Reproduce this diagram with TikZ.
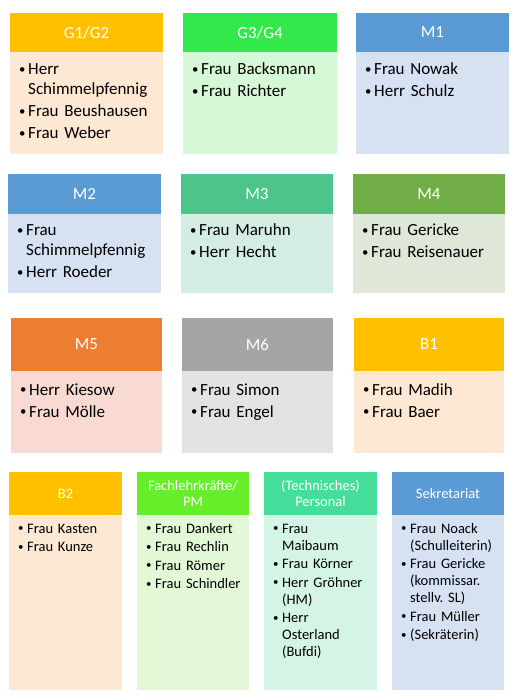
\documentclass[tikz,border=0pt]{standalone}
\usepackage{fontspec}
\usepackage{graphicx}
\setmainfont{Carlito}
\frenchspacing
\definecolor{gold}{HTML}{FFC000}
\definecolor{peach}{HTML}{FDE9D3}
\definecolor{brgreen}{HTML}{33E84A}
\definecolor{ltgreen}{HTML}{D6F8D6}
\definecolor{blueh}{HTML}{5B9BD5}
\definecolor{blueb}{HTML}{D6E1F2}
\definecolor{mint}{HTML}{4CC48A}
\definecolor{mintb}{HTML}{D4EDE2}
\definecolor{olive}{HTML}{70AD47}
\definecolor{oliveb}{HTML}{DFE8D8}
\definecolor{orangeh}{HTML}{ED7D31}
\definecolor{orangeb}{HTML}{F9DAD2}
\definecolor{greyh}{HTML}{A5A5A5}
\definecolor{greyb}{HTML}{E3E3E3}
\definecolor{lime}{HTML}{66EE2A}
\definecolor{limeb}{HTML}{E2F8D6}
\definecolor{aqua}{HTML}{44DD99}
\definecolor{aquab}{HTML}{D4F5E6}
\newcommand\bu{\makebox[9pt][l]{\raisebox{0.08em}{\scalebox{0.75}{\textbullet}}}}
\newcommand\ct{\hspace*{9pt}}
\tikzset{
  hdr/.style={inner sep=0pt, text=white, align=center},
  bodybox/.style={inner sep=0pt},
  biglist/.style={anchor=base west, inner sep=0pt, text width=150pt, align=left,
    font=\fontsize{17}{19.5}\selectfont},
  smalllist/.style={anchor=base west, inner sep=0pt, text width=110pt, align=left,
    font=\fontsize{14.5}{17}\selectfont},
  bigh/.style={font=\fontsize{17}{19}\selectfont},
  smallh/.style={font=\fontsize{14.5}{16}\selectfont}
}
% #1 name, #2 left, #3 right, #4 top, #5 header bottom, #6 body bottom, #7 hdr col, #8 body col, #9 title
\newcommand\grp[9]{%
  \node[bodybox, fill=#8, minimum width={(#3-#2)*1pt}, minimum height={(#6-#5)*1pt}]
    (#1-b) at ({(#2+#3)/2},{(#5+#6)/2}) {};
  \node[hdr, fill=#7, minimum width={(#3-#2)*1pt}, minimum height={(#5-#4)*1pt}]
    (#1-h) at ({(#2+#3)/2},{(#4+#5)/2}) {#9};
}
\begin{document}
\begin{tikzpicture}[x=1pt,y=-1pt]
\useasboundingbox (0,0) rectangle (519,700);
\begin{scope}[bigh]
\grp{g12}{10}{163}{13}{52}{154}{gold}{peach}{G1/G2}
\grp{g34}{183}{337}{13}{52}{154}{brgreen}{ltgreen}{G3/G4}
\grp{m1}{356}{509}{13}{52}{154}{blueh}{blueb}{M1}
\grp{m2}{8}{161}{174}{214}{293}{blueh}{blueb}{M2}
\grp{m3}{181}{333}{174}{214}{293}{mint}{mintb}{M3}
\grp{m4}{353}{505}{174}{214}{293}{olive}{oliveb}{M4}
\grp{m5}{11}{162}{318}{371}{453}{orangeh}{orangeb}{M5}
\grp{m6}{182}{333}{318}{371}{453}{greyh}{greyb}{M6}
\grp{b1}{354}{504}{318}{371}{453}{gold}{peach}{B1}
\end{scope}
\begin{scope}[smallh]
\grp{b2}{9}{122}{472}{515}{690}{gold}{peach}{B2}
\grp{fl}{137}{249}{472}{515}{690}{lime}{limeb}{Fachlehrkräfte/\\PM}
\grp{tp}{264}{377}{472}{515}{690}{aqua}{aquab}{(Technisches)\\Personal}
\grp{sk}{392}{504}{472}{515}{690}{blueh}{blueb}{Sekretariat}
\end{scope}
% lists row 1
\node[biglist] (g12-l) at (19,75) {\bu Herr\\\ct Schimmelpfennig\\[2.5pt]\bu Frau Beushausen\\[2.5pt]\bu Frau Weber};
\node[biglist] (g34-l) at (192,75) {\bu Frau Backsmann\\[2.5pt]\bu Frau Richter};
\node[biglist] (m1-l) at (365,75) {\bu Frau Nowak\\[2.5pt]\bu Herr Schulz};
% row 2
\node[biglist] (m2-l) at (17,236) {\bu Frau\\\ct Schimmelpfennig\\[2.5pt]\bu Herr Roeder};
\node[biglist] (m3-l) at (190,236) {\bu Frau Maruhn\\[2.5pt]\bu Herr Hecht};
\node[biglist] (m4-l) at (362,236) {\bu Frau Gericke\\[2.5pt]\bu Frau Reisenauer};
% row 3
\node[biglist] (m5-l) at (20,395) {\bu Herr Kiesow\\[2.5pt]\bu Frau Mölle};
\node[biglist] (m6-l) at (191,395) {\bu Frau Simon\\[2.5pt]\bu Frau Engel};
\node[biglist] (b1-l) at (363,395) {\bu Frau Madih\\[2.5pt]\bu Frau Baer};
% row 4
\node[smalllist] (b2-l) at (18,533) {\bu Frau Kasten\\[1.5pt]\bu Frau Kunze};
\node[smalllist] (fl-l) at (146,533) {\bu Frau Dankert\\[1.5pt]\bu Frau Rechlin\\[1.5pt]\bu Frau Römer\\[1.5pt]\bu Frau Schindler};
\node[smalllist] (tp-l) at (273,533) {\bu Frau\\\ct Maibaum\\[1.5pt]\bu Frau Körner\\[1.5pt]\bu Herr Gröhner\\\ct (HM)\\[1.5pt]\bu Herr\\\ct Osterland\\\ct (Bufdi)};
\node[smalllist] (sk-l) at (401,533) {\bu Frau Noack\\\ct (Schulleiterin)\\[1.5pt]\bu Frau Gericke\\\ct (kommissar.\\\ct stellv. SL)\\[1.5pt]\bu Frau Müller\\[1.5pt]\bu (Sekräterin)};
\end{tikzpicture}
\end{document}
